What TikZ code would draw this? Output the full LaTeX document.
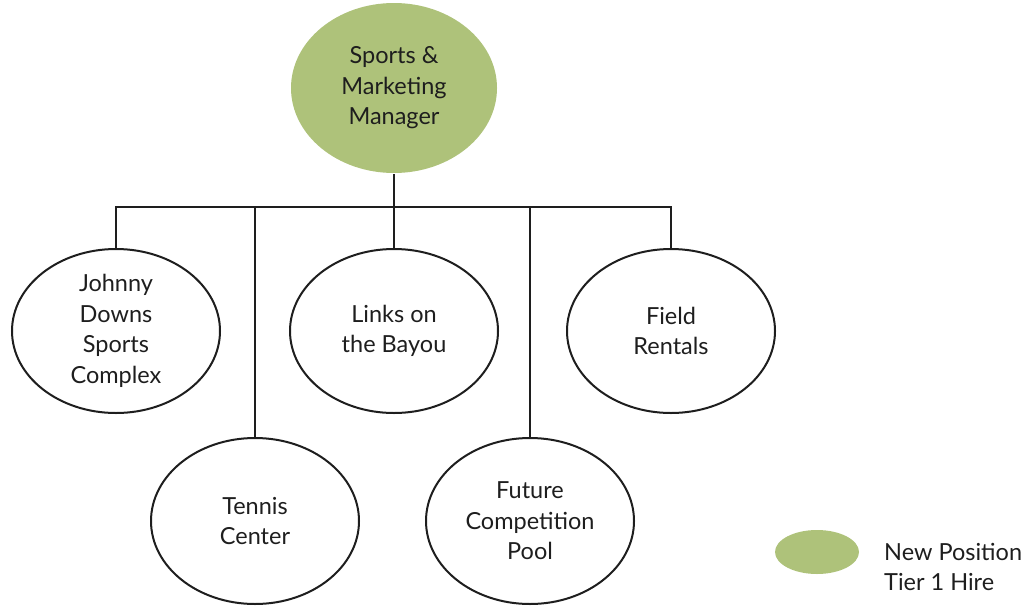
\documentclass[tikz,border=0pt]{standalone}
\usepackage{fontspec}
\setmainfont{Lato}
\usetikzlibrary{shapes.geometric}
\definecolor{leaf}{RGB}{174,194,122}
\definecolor{ink}{RGB}{30,30,30}
\tikzset{
  unit/.style={ellipse, draw=ink, line width=2pt, minimum width=208pt, minimum height=164pt, inner sep=0pt, align=center, font=\fontsize{23.5}{30.5}\selectfont, text=ink},
  newpos/.style={unit, fill=leaf, draw=none},
  link/.style={draw=ink, line width=2pt}
}
\begin{document}
\begin{tikzpicture}[x=1pt,y=-1pt]
\useasboundingbox (0,0) rectangle (1027,605);
\node[newpos, minimum width=206pt, minimum height=170pt] (top) at (394,88) {Sports \&\\Marketing\\Manager};
\node[unit] (jd) at (116,331) {Johnny\\Downs\\Sports\\Complex};
\node[unit] (lb) at (394,331) {Links on\\the Bayou};
\node[unit] (fr) at (671,331) {Field\\Rentals};
\node[unit, minimum height=166pt] (tc) at (255,521) {Tennis\\Center};
\node[unit, minimum height=166pt] (fp) at (530,521) {Future\\Competition\\Pool};
\coordinate (bus) at (394,207);
\draw[link] (top.south) -- (lb.north);
\draw[link] (jd.north) |- (bus);
\draw[link] (fr.north) |- (bus);
\draw[link] (tc.north) -- (tc.north |- bus);
\draw[link] (fp.north) -- (fp.north |- bus);
\node[newpos, minimum width=84pt, minimum height=44pt] (leg) at (817,552) {};
\node[anchor=west, align=left, font=\fontsize{23.5}{30}\selectfont, text=ink, inner sep=0pt] (legt) at (884,567) {New Position\\Tier 1 Hire};
\end{tikzpicture}
\end{document}
